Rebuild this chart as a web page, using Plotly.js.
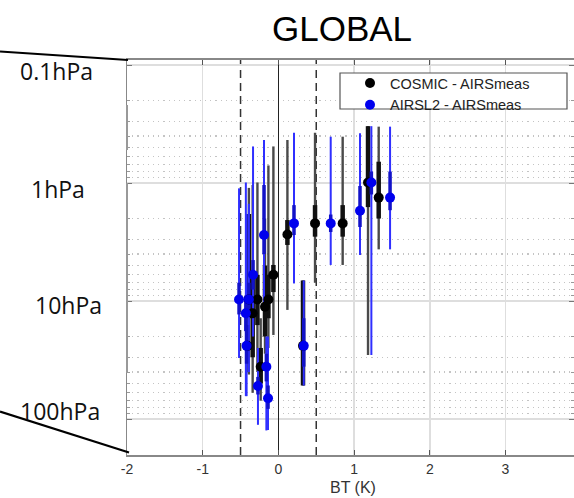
<!DOCTYPE html>
<html>
<head>
<meta charset="utf-8">
<script src="https://cdn.plot.ly/plotly-3.0.1.min.js"></script>
<style>html,body{margin:0;padding:0;background:#fff;}#chart{width:574px;height:498px;}</style>
</head>
<body>
<div id="chart"></div>
<script>
// COSMIC - AIRSmeas (black)
const cosmicX        = [1.184, 1.325, 0.849, 0.484, 0.119, -0.066, -0.132, -0.277, -0.390, -0.340, -0.177, -0.410, 0.325, -0.234];
const cosmicP        = [0.99,  1.33,  2.20,  2.20,  2.73,  6.0,    9.7,    9.7,    9.7,    12.7,   11.2,   24.0,   24.0,  36.1];
const cosmicThinTop  = [0.33,  0.333, 0.405, 0.375, 0.432, 0.49,   0.71,   0.99,   1.10,   1.04,   2.0,    3.0,    6.7,   14.0];
const cosmicThinBot  = [28.7,  3.65,  4.95,  7.0,   11.9,  19.4,   25.0,   40.0,   42.0,   60.0,   28.0,   40.0,   52.0,  70.0];
const cosmicThickTop = [0.33,  0.66,  1.54,  1.54,  2.06,  4.95,   6.0,    6.0,    1.83,   6.0,    5.0,    16.0,   6.7,   25.0];
const cosmicThickBot = [1.60,  2.00,  2.85,  2.85,  3.35,  8.4,    14.0,   16.0,   14.0,   30.0,   20.0,   30.0,   52.0,  50.0];

// AIRSL2 - AIRSmeas (blue)
const airsX        = [1.228, 1.475, 1.078, 0.691, 0.206, -0.190, -0.335, -0.520, -0.390, -0.430, -0.420, 0.335, -0.159, -0.270, -0.137];
const airsP        = [0.99,  1.33,  1.72,  2.20,  2.20,  2.76,   6.0,    9.7,    9.7,    12.7,   24.0,   24.0,  36.1,   52.5,   66.8];
const airsThinTop  = [0.33,  0.333, 0.379, 0.405, 0.375, 0.432,  0.49,   1.11,   1.50,   0.99,   1.83,   6.7,   20.0,   25.0,   20.0];
const airsThinBot  = [28.7,  3.65,  4.08,  4.95,  7.1,   12.0,   20.0,   30.4,   40.0,   64.0,   64.0,   52.0,  125.0,  112.0,  124.0];
const airsThickTop = [0.80,  0.80,  1.06,  1.85,  1.54,  1.04,   4.5,    7.0,    7.0,    9.0,    16.0,   14.0,  28.0,   44.0,   52.0];
const airsThickBot = [1.25,  1.70,  2.36,  2.60,  2.76,  4.0,    8.0,    13.0,   13.0,   18.0,   34.0,   36.0,  48.0,   62.0,   82.0];

const xTicks = [-2, -1, 0, 1, 2, 3];
const refLines = [-0.5, 0.5];
const levelLabels = ['0.1hPa', '1hPa', '10hPa', '100hPa'];

function errPlus(p, bot) { return p.map((v, i) => bot[i] - v); }
function errMinus(p, top) { return p.map((v, i) => v - top[i]); }

// geometry (pixels)
const W = 574, H = 498, L = 127, T = 60, B = 43;
const plotW = W - L, plotH = H - T - B;
const pxPerK = 75.7, pxPerDecade = 118, y1hPa = 183;
const px = x => (x - L) / plotW;
const py = y => (H - B - y) / plotH;

function barTrace(x, p, top, bot, color, thick) {
  return {
    type: 'scatter', mode: 'markers', x: x, y: p, showlegend: false, hoverinfo: 'skip',
    marker: {size: 1, color: 'rgba(0,0,0,0)'},
    error_y: {type: 'data', symmetric: false, array: errPlus(p, bot), arrayminus: errMinus(p, top),
              color: color, thickness: thick, width: 0}
  };
}

const traces = [
  barTrace(cosmicX, cosmicP, cosmicThinTop, cosmicThinBot, '#4a4a4a', 2.4),
  barTrace(cosmicX, cosmicP, cosmicThickTop, cosmicThickBot, '#111111', 4.5),
  barTrace(airsX, airsP, airsThinTop, airsThinBot, '#2f2fff', 2),
  barTrace(airsX, airsP, airsThickTop, airsThickBot, '#1212c8', 3.5),
  {type: 'scatter', mode: 'markers', name: 'COSMIC - AIRSmeas', x: cosmicX, y: cosmicP,
   marker: {size: 10, color: '#000000'}},
  {type: 'scatter', mode: 'markers', name: 'AIRSL2 - AIRSmeas', x: airsX, y: airsP,
   marker: {size: 10, color: '#0000ee'}}
];

const shapes = [];
refLines.forEach(v => {
  shapes.push({type: 'line', xref: 'x', yref: 'paper', x0: v, x1: v, y0: 0, y1: 1,
    line: {color: '#333', width: 1.5, dash: '8px,5px'}, layer: 'below'});
});
// legend box
shapes.push({type: 'rect', xref: 'paper', yref: 'paper', x0: px(340), x1: px(567), y0: py(109), y1: py(73),
  fillcolor: '#ffffff', line: {color: '#555', width: 1.2}, layer: 'above'});
// slanted connector lines
shapes.push({type: 'line', xref: 'paper', yref: 'paper', x0: px(0), y0: py(51.5), x1: px(128), y1: py(60),
  line: {color: '#000', width: 2.2}});
shapes.push({type: 'line', xref: 'paper', yref: 'paper', x0: px(0), y0: py(411.5), x1: px(129), y1: py(452.5),
  line: {color: '#000', width: 2.2}});
// left axis darker segments
shapes.push({type: 'line', xref: 'paper', yref: 'paper', x0: 0, x1: 0, y0: py(150), y1: py(105),
  line: {color: '#999', width: 2}});
shapes.push({type: 'line', xref: 'paper', yref: 'paper', x0: 0, x1: 0, y0: py(373), y1: py(183),
  line: {color: '#999', width: 2}});

const labelPos = [[56, 71], [58, 189], [68, 305], [60, 411]];
const annotations = levelLabels.map((t, i) => ({
  text: t, xref: 'paper', yref: 'paper', x: px(labelPos[i][0]), y: py(labelPos[i][1]),
  xanchor: 'center', yanchor: 'middle', showarrow: false,
  font: {family: 'Open Sans, Noto Sans, sans-serif', size: 23, color: '#111'}
}));
annotations.push({text: 'GLOBAL', xref: 'paper', yref: 'paper', x: px(342), y: py(28),
  xanchor: 'center', yanchor: 'middle', showarrow: false,
  font: {family: 'Liberation Sans, Arial, sans-serif', size: 35, color: '#000'}});
annotations.push({text: 'BT (K)', xref: 'paper', yref: 'paper', x: px(353), y: py(487),
  xanchor: 'center', yanchor: 'middle', showarrow: false,
  font: {family: 'Liberation Sans, Arial, sans-serif', size: 16, color: '#333'}});

const layout = {
  width: W, height: H,
  margin: {l: L, r: 0, t: T, b: B, pad: 0},
  paper_bgcolor: '#fff', plot_bgcolor: '#fff',
  showlegend: true,
  legend: {x: px(350), y: py(67), xanchor: 'left', yanchor: 'top', bgcolor: 'rgba(0,0,0,0)', borderwidth: 0,
    font: {family: 'Liberation Sans, Arial, sans-serif', size: 14.5, color: '#222'}, tracegroupgap: 0, itemwidth: 30},
  xaxis: {
    range: [-2, -2 + plotW / pxPerK], tickvals: xTicks, ticktext: xTicks.map(String),
    showgrid: true, gridcolor: '#dedede', gridwidth: 1.5,
    zeroline: true, zerolinecolor: '#222', zerolinewidth: 1.3,
    showline: true, linecolor: '#888', linewidth: 2, mirror: 'ticks',
    ticks: 'inside', ticklen: 5, tickcolor: '#555', tickwidth: 1,
    tickfont: {family: 'Liberation Sans, Arial, sans-serif', size: 14, color: '#333'}
  },
  yaxis: {
    type: 'log', range: [(H - B - y1hPa) / pxPerDecade, -(y1hPa - T) / pxPerDecade],
    dtick: 1, showticklabels: false, showgrid: true, gridcolor: '#dedede', gridwidth: 1.5, zeroline: false,
    showline: true, linecolor: '#888', linewidth: 1, mirror: 'ticks',
    ticks: 'inside', ticklen: 5, tickcolor: '#777',
    minor: {dtick: 'D1', showgrid: true, gridcolor: '#c4c4c4', griddash: '1.2px,4px', gridwidth: 1.2,
      ticks: 'inside', ticklen: 3, tickcolor: '#999'}
  },
  shapes: shapes,
  annotations: annotations
};

Plotly.newPlot('chart', traces, layout, {displayModeBar: false, staticPlot: true});
</script>
</body>
</html>
